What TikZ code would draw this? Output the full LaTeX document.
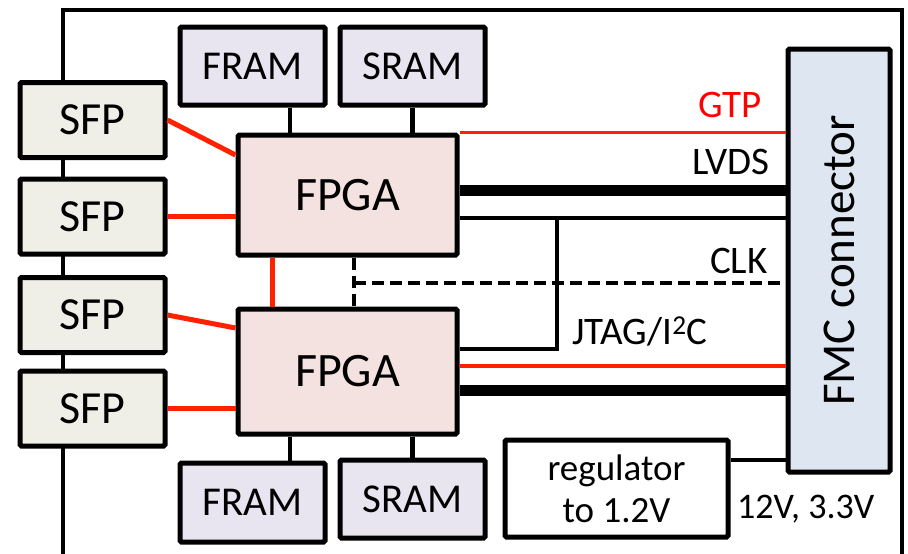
\documentclass[tikz,border=0pt]{standalone}
\usepackage{fontspec}
\setmainfont{Carlito}
\definecolor{sfpfill}{HTML}{EFEFE7}
\definecolor{memfill}{HTML}{E8E4F0}
\definecolor{fpgafill}{HTML}{F4E2E1}
\definecolor{fmcfill}{HTML}{DEE6F1}
\definecolor{gtpred}{HTML}{FF2200}
\tikzset{
  box/.style={draw,line width=5pt,rounded corners=1.5pt,inner sep=0pt},
  sfpbox/.style={box,fill=sfpfill,minimum width=145pt,minimum height=75pt,font=\fontsize{46}{46}\selectfont},
  membox/.style={box,fill=memfill,minimum width=145pt,minimum height=78pt,font=\fontsize{41}{41}\selectfont},
  fpgabox/.style={box,fill=fpgafill,minimum width=219pt,font=\fontsize{48}{48}\selectfont},
  wire/.style={line width=4.5pt},
  redwire/.style={line width=5pt,gtpred},
  gtp/.style={line width=3.5pt,gtpred},
  lvds/.style={line width=11pt},
  clkline/.style={line width=4pt,dash pattern=on 12pt off 6pt},
  lbl/.style={anchor=base west,inner sep=0pt,font=\fontsize{39}{39}\selectfont}
}
\begin{document}
\begin{tikzpicture}[x=1pt,y=-1pt]
\useasboundingbox (0,0) rectangle (908,554);
\draw[wire] (63,554) |- (902,10) -- (902,554);

\node[sfpbox] (sfp1) at (92.5,120) {SFP};
\node[sfpbox] (sfp2) at (92.5,216.5) {SFP};
\node[sfpbox] (sfp3) at (92.5,315) {SFP};
\node[sfpbox] (sfp4) at (92.5,408.5) {SFP};
\node[membox] (framA) at (252.5,66) {FRAM};
\node[membox] (sramA) at (412.5,66) {SRAM};
\node[fpgabox,minimum height=120pt] (fpgaA) at (347.5,195) {FPGA};
\node[fpgabox,minimum height=125pt] (fpgaB) at (347.5,371.5) {FPGA};
\node[membox,minimum height=79pt] (framB) at (252.5,502.5) {FRAM};
\node[membox] (sramB) at (412.5,499) {SRAM};
\node[box,fill=fmcfill,minimum width=423pt,minimum height=102pt,font=\fontsize{47}{47}\selectfont,rotate=90] (fmc) at (839,260.5) {FMC connector};
\node[box,minimum width=223pt,minimum height=97pt,align=center,font=\fontsize{37}{42}\selectfont] (reg) at (616.5,488.5) {regulator\\to 1.2V};

\draw[wire] ([xshift=37.5pt]framA.south) -- ([xshift=-57.5pt]fpgaA.north);
\draw[wire] (sramA.south) -- (sramA.south |- fpgaA.north);
\draw[wire] ([xshift=37.5pt]framB.north) -- ([xshift=-57.5pt]fpgaB.south);
\draw[wire] (sramB.north) -- (sramB.north |- fpgaB.south);

\draw[redwire] (sfp1.east) -- ([yshift=40pt]fpgaA.west);
\draw[redwire] (sfp2.east) -- (sfp2.east -| fpgaA.west);
\draw[redwire] (sfp3.east) -- ([yshift=43.5pt]fpgaB.west);
\draw[redwire] (sfp4.east) -- (sfp4.east -| fpgaB.west);
\draw[redwire] ([xshift=-75.5pt]fpgaA.south) -- ([xshift=-75.5pt]fpgaB.north);

\coordinate (clk) at (354,283);
\draw[clkline] ([xshift=6.5pt]fpgaA.south) -- ([xshift=6.5pt]fpgaB.north);
\draw[clkline] (clk) -- (clk -| fmc.north);

\coordinate (lvdsA) at ([yshift=5pt]fpgaA.east);
\coordinate (jtagA) at ([yshift=-23pt]fpgaA.east);
\coordinate (gtpB) at ([yshift=5.5pt]fpgaB.east);
\coordinate (lvdsB) at ([yshift=-18.5pt]fpgaB.east);
\coordinate (jtagB) at ([yshift=22.5pt]fpgaB.east);
\coordinate (jtag) at (557,218);
\coordinate (pwr) at ([yshift=28.5pt]reg.east);
\draw[gtp] (fpgaA.north east) -- (fpgaA.north east -| fmc.north);
\draw[lvds] (lvdsA) -- (lvdsA -| fmc.north);
\draw[wire] (jtagA) -- (jtagA -| fmc.north);
\draw[wire] (jtagB) -| (jtag);
\draw[gtp] (gtpB) -- (gtpB -| fmc.north);
\draw[lvds] (lvdsB) -- (lvdsB -| fmc.north);
\draw[wire] (pwr) -- (pwr -| fmc.north);

\node[lbl,text=red] (lblgtp) at (698,117) {GTP};
\node[lbl] (lbllvds) at (692,174) {LVDS};
\node[lbl] (lblclk) at (710,273) {CLK};
\node[lbl] (lbljtag) at (572,344) {JTAG/I\textsuperscript{2}C};
\node[lbl,font=\fontsize{36}{36}\selectfont] (lblpwr) at (737,518) {12V, 3.3V};
\end{tikzpicture}
\end{document}
